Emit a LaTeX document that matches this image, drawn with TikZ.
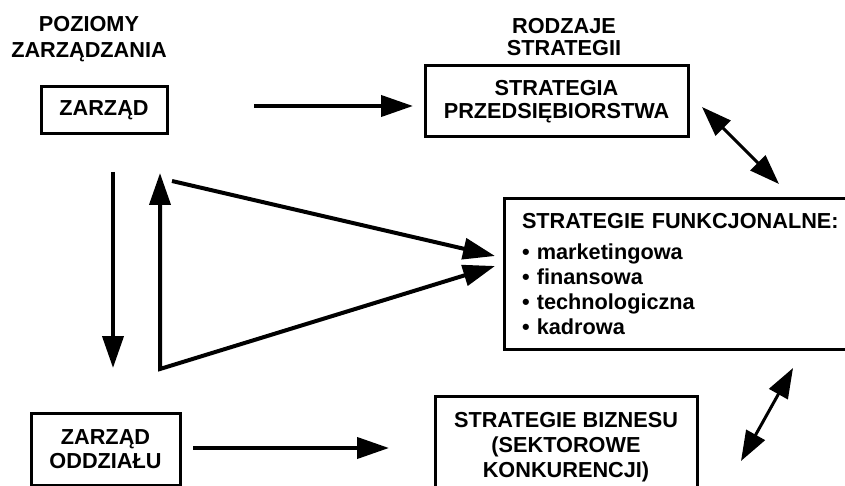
\documentclass[tikz,border=0pt]{standalone}
\usepackage{fontspec}
\setmainfont{Liberation Sans}
\usetikzlibrary{arrows.meta}
\begin{document}
\begin{tikzpicture}[x=1pt,y=-1pt,
  every node/.style={font=\fontsize{21.7}{25}\selectfont\bfseries},
  box/.style={draw, line width=3pt, align=center, inner sep=0pt},
  heading/.style={align=center, inner sep=0pt, anchor=north},
  arr/.style={line width=4pt, -{Triangle[length=32pt,width=21pt]}},
  dbl/.style={line width=3pt,
    {Triangle[length=30pt,width=21pt]}-{Triangle[length=30pt,width=21pt]}}]
\useasboundingbox (0,0) rectangle (845,486);
\clip (0,0) rectangle (845,486);

% column headings
\node[heading, font=\fontsize{21.7}{26}\selectfont\bfseries] (hlevels) at (89,16)
  {POZIOMY\\ZARZĄDZANIA};
\node[heading, font=\fontsize{21.7}{22}\selectfont\bfseries] (htypes) at (564,18)
  {RODZAJE\\STRATEGII};

% management levels
\node[box, minimum width=126, minimum height=47] (zarzad) at (104,110.5) {ZARZĄD};
\node[box, minimum width=149, minimum height=72] (oddzial) at (105.5,449)
  {ZARZĄD\\[-0.5pt]ODDZIAŁU};

% strategy types
\node[box, minimum width=263, minimum height=71,
      font=\fontsize{21.7}{23}\selectfont\bfseries] (strat) at (556.5,101.5)
  {STRATEGIA\\PRZEDSIĘBIORSTWA};
\node[box, align=left, anchor=north west, inner xsep=17.5pt, text width=340pt,
      minimum height=150] (funk) at (503,197.5)
  {STRATEGIE FUNKCJONALNE:\\[6.5pt]
   • marketingowa\\
   • finansowa\\
   • technologiczna\\
   • kadrowa};
\node[box, anchor=north, minimum width=262, inner ysep=16pt] (biznes) at (566,395)
  {STRATEGIE BIZNESU\\(SEKTOROWE\\KONKURENCJI)};

% free ends of the connectors
\coordinate (zOut)  at (254,106);
\coordinate (sIn)   at (413,106);
\coordinate (downA) at (113,172);
\coordinate (downB) at (113,368);
\coordinate (upTip) at (160,173);
\coordinate (corner) at (160,369);
\coordinate (diagA) at (172,181);
\coordinate (fIn1)  at (495,256);
\coordinate (fIn2)  at (495,266);
\coordinate (oOut)  at (193,448);
\coordinate (bIn)   at (389,448);
\coordinate (sfA)   at (702,107);
\coordinate (sfB)   at (779,184);
\coordinate (fbA)   at (793,368);
\coordinate (fbB)   at (741,461);

% connectors
\draw[arr] (zOut) -- (sIn);
\draw[arr] (downA) -- (downB);
\draw[arr] (diagA) -- (fIn1);
\draw[line width=4pt, {Triangle[length=32pt,width=21pt]}-{Triangle[length=32pt,width=21pt]}]
  (upTip) -- (corner) -- (fIn2);
\draw[arr] (oOut) -- (bIn);
\draw[dbl] (sfA) -- (sfB);
\draw[dbl] (fbA) -- (fbB);
\end{tikzpicture}
\end{document}
